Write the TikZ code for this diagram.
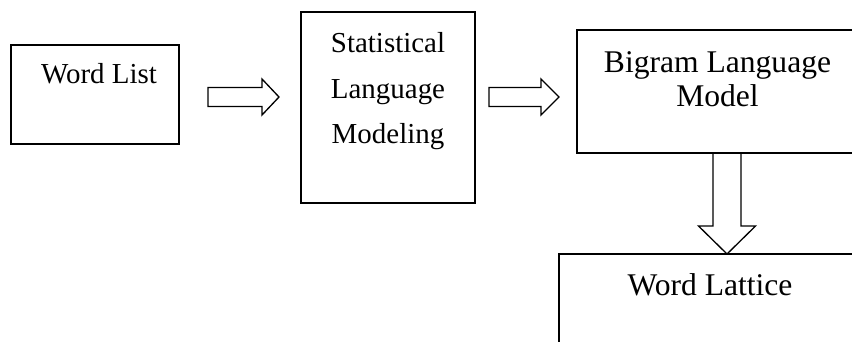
\documentclass[tikz,border=0pt]{standalone}
\usepackage{fontspec}
\setmainfont{Liberation Serif}
\usetikzlibrary{calc}
\def\pxl{0.38pt}

\begin{document}
\begin{tikzpicture}[x=0.38pt,y=-0.38pt]
        \tikzset{box/.style={draw,line width=0.5pt,inner sep=0pt},
            blockarr/.style={draw,line width=0.5pt,line join=miter},
            txt/.style={anchor=base,inner sep=0pt,font=\fontsize{11}{13}\selectfont},
            bigtxt/.style={anchor=base,inner sep=0pt,font=\fontsize{12}{14}\selectfont}}
        \useasboundingbox (0,0) rectangle (852,341);
        \clip (0,0) rectangle (852,341);
        % boxes
        \node[box,minimum width=168*\pxl,minimum height=99*\pxl] (list) at (95,94.5) {};
        \node[box,minimum width=174*\pxl,minimum height=191*\pxl] (slm) at (388,107.5) {};
        \node[box,minimum width=281*\pxl,minimum height=123*\pxl] (bigram) at (717.5,91.5) {};
        \node[box,minimum width=302*\pxl,minimum height=200*\pxl] (lattice) at (710,354) {};
        % texts
        \node[txt] (listtxt) at (99,83) {Word List};
        \node[txt] (slmtxta) at (388,52) {Statistical};
        \node[txt] (slmtxtb) at (388,98) {Language};
        \node[txt] (slmtxtc) at (388,143) {Modeling};
        \node[bigtxt] (bigramtxta) at (717.5,72) {Bigram Language};
        \node[bigtxt] (bigramtxtb) at (717.5,106) {Model};
        \node[bigtxt] (latticetxt) at (710,295) {Word Lattice};
        % block arrows
        \coordinate (a1s) at (208,97);
        \coordinate (a1e) at (279,97);
        \coordinate (a2s) at (489,97);
        \coordinate (a2e) at (559,97);
        \coordinate (a3s) at (727,153);
        \coordinate (a3e) at (727,254);
        \draw[blockarr] ($(a1s)+(0,-9.5)$) -- ($(a1e)+(-17,-9.5)$) -- ($(a1e)+(-17,-18)$)
            -- (a1e) -- ($(a1e)+(-17,18)$) -- ($(a1e)+(-17,9.5)$) -- ($(a1s)+(0,9.5)$) -- cycle;
        \draw[blockarr] ($(a2s)+(0,-9.5)$) -- ($(a2e)+(-18,-9.5)$) -- ($(a2e)+(-18,-18)$)
            -- (a2e) -- ($(a2e)+(-18,18)$) -- ($(a2e)+(-18,9.5)$) -- ($(a2s)+(0,9.5)$) -- cycle;
        \draw[blockarr] ($(a3s)+(-14,0)$) -- ($(a3e)+(-14,-28)$) -- ($(a3e)+(-28.5,-28)$)
            -- (a3e) -- ($(a3e)+(28.5,-28)$) -- ($(a3e)+(14,-28)$) -- ($(a3s)+(14,0)$);
\end{tikzpicture}
\end{document}
